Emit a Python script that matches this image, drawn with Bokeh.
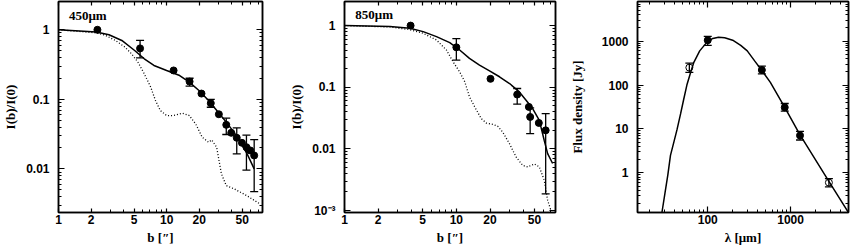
import numpy as np
from bokeh.plotting import figure
from bokeh.models import (LogAxis, FixedTicker, CustomJSTickFormatter, Whisker, TeeHead,
                          ColumnDataSource, Label, Range1d)
from bokeh.layouts import row
from bokeh.embed import file_html
from bokeh.resources import INLINE

# ---------------- Panel 1 : 450 micron profile ----------------
b450_pts = [2.29, 5.68, 11.6, 16.3, 21.0, 25.6, 30.4, 35.6, 39.6, 44.5, 49.7, 54.7, 59.4, 64.5]
i450_pts = [1.0, 0.54, 0.26, 0.18, 0.121, 0.088, 0.061, 0.043, 0.033, 0.028, 0.0237, 0.0205, 0.0184, 0.0156]
b450_err = [5.68, 16.3, 25.6, 35.6, 44.5, 54.7, 64.5]
lo450_err = [0.395, 0.155, 0.077, 0.0312, 0.0164, 0.0096, 0.0047]
hi450_err = [0.702, 0.201, 0.100, 0.0536, 0.0388, 0.0305, 0.0263]
b450_model = [1.0, 2.23, 2.93, 3.85, 5.06, 6.21, 7.63, 10.0, 13.2, 16.2, 19.9, 24.4, 30.0, 36.8, 45.2, 55.5, 64.5]
i450_model = [1.0, 0.926, 0.847, 0.702, 0.504, 0.383, 0.307, 0.26, 0.220, 0.177, 0.134, 0.096, 0.065,
              0.044, 0.0286, 0.0164, 0.010]
b450_psf = [1.0, 2.23, 2.73, 3.36, 4.12, 4.73, 5.42, 6.21, 7.12, 7.89, 8.74, 10.0, 11.5, 14.1, 16.2,
            18.6, 21.3, 24.4, 26.1, 29.0, 32.1, 35.6, 42.2, 55.5, 72.9]
i450_psf = [1.0, 0.905, 0.829, 0.702, 0.563, 0.452, 0.343, 0.233, 0.150, 0.096, 0.069, 0.0585, 0.0585,
            0.063, 0.0585, 0.044, 0.0286, 0.0242, 0.0261, 0.0205, 0.0085, 0.00575, 0.00515, 0.0041, 0.00313]

# ---------------- Panel 2 : 850 micron profile ----------------
b850_pts = [3.9, 10.0, 20.2, 35.0, 44.5, 45.7, 54.6, 62.9]
i850_pts = [1.0, 0.444, 0.137, 0.0762, 0.048, 0.033, 0.0264, 0.020]
b850_err = [10.0, 35.0, 45.7, 62.9]
lo850_err = [0.276, 0.0531, 0.0177, 0.00187]
hi850_err = [0.614, 0.0955, 0.0463, 0.0374]
b850_model = [1.0, 2.55, 3.84, 5.05, 6.64, 8.73, 10.7, 13.1, 16.1, 19.8, 24.3, 29.9, 36.6, 42.0, 48.1,
              55.2, 61.1, 65.5, 72.6]
i850_model = [1.0, 0.963, 0.905, 0.798, 0.662, 0.529, 0.402, 0.294, 0.229, 0.185, 0.148, 0.115, 0.084,
              0.0617, 0.0451, 0.0291, 0.0137, 0.0084, 0.0058]
b850_psf = [1.0, 2.55, 3.84, 5.05, 6.64, 8.15, 9.34, 10.7, 11.9, 13.1, 14.6, 16.7, 18.5, 21.2, 23.5,
            26.0, 29.9, 34.2, 39.2, 43.5, 49.8, 55.2, 61.1, 65.5, 70.1]
i850_psf = [1.0, 0.95, 0.86, 0.750, 0.585, 0.402, 0.259, 0.178, 0.1225, 0.0698, 0.048, 0.031, 0.0263,
            0.025, 0.0232, 0.0187, 0.0121, 0.0074, 0.0054, 0.0051, 0.0057, 0.0051, 0.0031, 0.00146, 0.00101]

# ---------------- Panel 3 : SED ----------------
lam_filled = [100, 450, 850, 1300]
flux_filled = [1050, 220, 31, 7.1]
lam_open = [60, 2900]
flux_open = [250, 0.6]
lam_err = [60, 100, 450, 850, 1300, 2900]
flux_lo = [195, 800, 180, 25.5, 5.6, 0.48]
flux_hi = [315, 1280, 270, 38, 8.8, 0.74]
lam_model = [28.0, 30.5, 33, 35.5, 39, 42.5, 47, 51, 56, 62, 68, 80, 98, 115, 135, 160, 200, 250, 300,
             370, 450, 570, 760, 850, 1300, 2900, 5000]
flux_model = [0.125, 0.35, 0.9, 2.5, 5, 9.5, 22, 45, 100, 190, 330, 600, 950, 1150, 1230, 1200, 1050, 800,
              600, 350, 215, 115, 45, 31, 7.3, 0.64, 0.125]

# axis limits and tick labels
b_range = (1, 77)
i450_range = (0.00236, 2.55)
i850_range = (0.00093, 2.46)
lam_range = (14.2, 5000)
flux_range = (0.125, 8000)
b_ticks = [1, 2, 5, 10, 20, 50]
i_ticks = [0.001, 0.01, 0.1, 1]
lam_ticks = [100, 1000]
flux_ticks = [1, 10, 100, 1000]

TICK_FONT = "Liberation Sans"
LABEL_FONT = "Liberation Serif"
FIG_H = 247


def minors(exps, skip=()):
    return [m * 10.0 ** e for e in exps for m in range(2, 10) if m * 10.0 ** e not in skip]


def style_axis(ax, ticker, labels=True, major=6, minor=3, standoff=9):
    ax.ticker = ticker
    ax.major_tick_in = major
    ax.major_tick_out = 0
    ax.minor_tick_in = minor
    ax.minor_tick_out = 0
    ax.major_tick_line_color = "black"
    ax.minor_tick_line_color = "black"
    ax.major_tick_line_width = 1.2
    ax.minor_tick_line_width = 1
    ax.axis_line_color = "black"
    ax.axis_line_width = 1.5
    if labels:
        ax.formatter = CustomJSTickFormatter(
            code="return tick < 0.005 ? '10\u207b\u00b3' : String(tick);")
        ax.major_label_text_font = TICK_FONT
        ax.major_label_text_font_style = "bold"
        ax.major_label_text_font_size = "12px"
        ax.major_label_text_color = "black"
        ax.major_label_standoff = standoff
        ax.axis_label_text_font = LABEL_FONT
        ax.axis_label_text_font_style = "bold"
        ax.axis_label_text_font_size = "13px"
        ax.axis_label_text_color = "black"
    else:
        ax.formatter = CustomJSTickFormatter(code="return '';")
        ax.major_label_text_font_size = "1px"
        ax.major_label_standoff = 0


def make_fig(xr, yr, w, bl, br, xt, yt, xlabel, ylabel, xmajor, ylab_standoff):
    p = figure(width=w, height=FIG_H, x_axis_type="log", y_axis_type="log",
               x_range=Range1d(*xr), y_range=Range1d(*yr),
               min_border_left=bl, min_border_right=br, min_border_top=1, min_border_bottom=35,
               output_backend="svg", toolbar_location=None)
    p.xgrid.visible = False
    p.ygrid.visible = False
    p.outline_line_color = "black"
    p.outline_line_width = 1.5
    p.background_fill_color = "white"
    p.border_fill_color = "white"
    style_axis(p.xaxis[0], xt, major=xmajor, standoff=2)
    style_axis(p.yaxis[0], yt, standoff=9)
    p.xaxis[0].axis_label = xlabel
    p.yaxis[0].axis_label = ylabel
    p.xaxis[0].axis_label_standoff = 3
    p.yaxis[0].axis_label_standoff = ylab_standoff
    top = LogAxis()
    style_axis(top, xt, labels=False, major=xmajor)
    right = LogAxis()
    style_axis(right, yt, labels=False)
    p.add_layout(top, "above")
    p.add_layout(right, "right")
    return p


def profile_panel(w, bl, br, yr, bp, ip, be, le, he, bm, im, bs, is_, tag, tagx, tagy):
    xt = FixedTicker(ticks=b_ticks, minor_ticks=minors([0, 1], skip=set(b_ticks)))
    yt = FixedTicker(ticks=i_ticks, minor_ticks=minors([-4, -3, -2, -1]))
    p = make_fig(b_range, yr, w, bl, br, xt, yt, "b [\u2033]", "I(b)/I(0)", 4, 5)
    p.line(bs, is_, line_color="black", line_width=1.3, line_dash="1 2")
    p.line(bm, im, line_color="black", line_width=1.5)
    src = ColumnDataSource(dict(x=be, lo=le, hi=he))
    p.add_layout(Whisker(source=src, base="x", lower="lo", upper="hi", line_width=1.3,
                         line_color="black",
                         lower_head=TeeHead(size=8, line_width=1.3, line_color="black"),
                         upper_head=TeeHead(size=8, line_width=1.3, line_color="black")))
    p.scatter(bp, ip, size=7, color="black")
    p.add_layout(Label(x=tagx, y=tagy, text=tag, text_font=LABEL_FONT, text_font_style="bold",
                       text_font_size="13px", text_baseline="middle", text_color="black"))
    return p


p1 = profile_panel(272, 51, 10, i450_range, b450_pts, i450_pts, b450_err, lo450_err, hi450_err,
                   b450_model, i450_model, b450_psf, i450_psf, "450\u03bcm", 1.25, 1.61)
p2 = profile_panel(293, 72, 10, i850_range, b850_pts, i850_pts, b850_err, lo850_err, hi850_err,
                   b850_model, i850_model, b850_psf, i850_psf, "850\u03bcm", 1.25, 1.49)

xt3 = FixedTicker(ticks=lam_ticks, minor_ticks=minors([1, 2, 3]))
yt3 = FixedTicker(ticks=flux_ticks, minor_ticks=minors([-1, 0, 1, 2, 3]))
p3 = make_fig(lam_range, flux_range, 285, 72, 2, xt3, yt3, "\u03bb [\u03bcm]", "Flux density [Jy]", 6, 14)
p3.line(lam_model, flux_model, line_color="black", line_width=1.5)
src3 = ColumnDataSource(dict(x=lam_err, lo=flux_lo, hi=flux_hi))
p3.add_layout(Whisker(source=src3, base="x", lower="lo", upper="hi", line_width=1.3, line_color="black",
                      lower_head=TeeHead(size=8, line_width=1.3, line_color="black"),
                      upper_head=TeeHead(size=8, line_width=1.3, line_color="black")))
p3.scatter(lam_filled, flux_filled, size=7, color="black")
p3.scatter(lam_open, flux_open, size=7, fill_color="white", fill_alpha=0.0, line_color="black", line_width=1)

layout = row(p1, p2, p3)
with open("out.html", "w", encoding="utf-8") as f:
    f.write(file_html(layout, INLINE))
